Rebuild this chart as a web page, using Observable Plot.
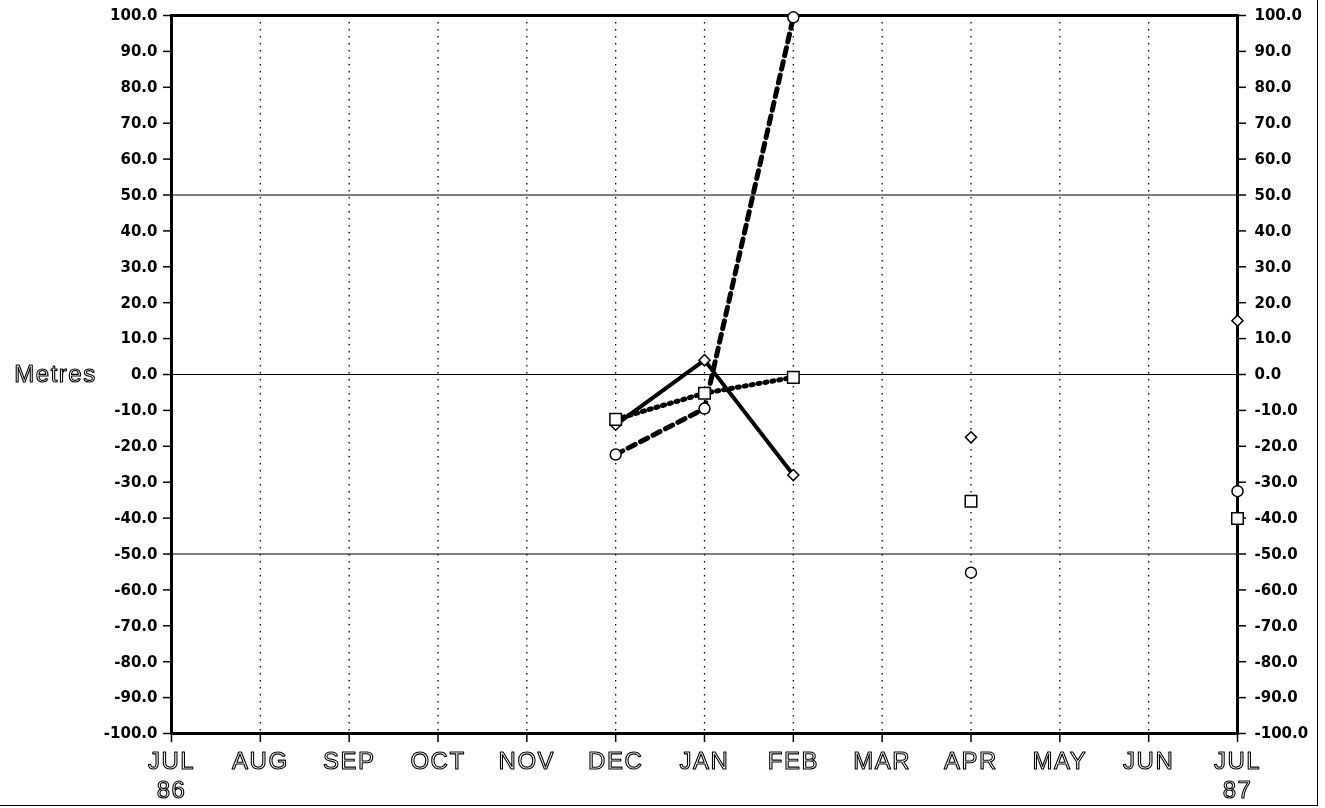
<!DOCTYPE html>
<html><head><meta charset="utf-8">
<script src="https://cdn.jsdelivr.net/npm/d3@7"></script>
<script src="https://cdn.jsdelivr.net/npm/@observablehq/plot@0.6"></script>
<style>
body{margin:0;background:#fff;}
#chart{position:relative;width:1325px;height:808px;}
#border{position:absolute;left:0;top:0;width:1317px;height:805px;border-right:1.5px solid #000;border-bottom:1.5px solid #000;pointer-events:none;}
svg text{filter:grayscale(1);}
g[aria-label="text"] text{letter-spacing:1.5px;}
</style></head><body>
<div id="chart"><div id="border"></div></div>
<script>
const months = ["JUL","AUG","SEP","OCT","NOV","DEC","JAN","FEB","MAR","APR","MAY","JUN","JUL"];
const years  = ["86","","","","","","","","","","","","87"];
const yTicks = d3.range(-100, 101, 10);
const refLines = [50, 0, -50];
// series values per month index (null = no observation)
const solidSeries  = [null,null,null,null,null,-14.0,  4.0,-28.0,null,-17.5,null,null, 15.0];
const dottedSeries = [null,null,null,null,null,-12.5, -5.2, -0.8,null,-35.3,null,null,-40.1];
const dashedSeries = [null,null,null,null,null,-22.3, -9.5, 99.5,null,-55.2,null,null,-32.5];

const idx = d3.range(months.length);
const fmt = d => d.toFixed(1);
const labelStyle = {fill:"white", stroke:"black", strokeWidth:1.1, paintOrder:"fill", fontFamily:"Liberation Sans", fontWeight:"normal", fontSize:24, lineAnchor:"middle"};

const chart = Plot.plot({
  width: 1325, height: 808,
  marginLeft: 171, marginRight: 88, marginTop: 15, marginBottom: 75,
  x: {domain: [0, 12]},
  y: {domain: [-100, 100]},
  style: {fontFamily: "DejaVu Sans", fontSize: "15px", fontWeight: "bold", color: "black", background: "white"},
  marks: [
    Plot.ruleX(idx.slice(1, -1), {stroke: "black", strokeWidth: 1.3, strokeDasharray: "1.5,5.5"}),
    Plot.ruleY(refLines, {stroke: "black", strokeWidth: 1}),
    Plot.axisY({anchor: "left", ticks: yTicks, tickSize: 8, tickPadding: 6, tickFormat: fmt, label: null, strokeWidth: 1.5}),
    Plot.axisY({anchor: "right", ticks: yTicks, tickSize: 8, tickPadding: 9, tickFormat: fmt, label: null, strokeWidth: 1.5}),
    Plot.axisX({ticks: idx, tickSize: 9, tickFormat: () => "", label: null, strokeWidth: 1.5}),
    Plot.frame({stroke: "black", strokeWidth: 3}),
    Plot.line(idx, {x: d => d, y: d => solidSeries[d], stroke: "black", strokeWidth: 4}),
    Plot.line(idx, {x: d => d, y: d => dottedSeries[d], stroke: "black", strokeWidth: 5, strokeDasharray: "2,5"}),
    Plot.line(idx, {x: d => d, y: d => dashedSeries[d], stroke: "black", strokeWidth: 5, strokeDasharray: "8,6"}),
    Plot.dot(idx, {x: d => d, y: d => solidSeries[d], symbol: "diamond2", r: 5, fill: "white", stroke: "black", strokeWidth: 1.5}),
    Plot.dot(idx, {x: d => d, y: d => dottedSeries[d], symbol: "square", r: 6.5, fill: "white", stroke: "black", strokeWidth: 1.5}),
    Plot.dot(idx, {x: d => d, y: d => dashedSeries[d], symbol: "circle", r: 5.5, fill: "white", stroke: "black", strokeWidth: 1.5}),
    Plot.text(idx, {x: d => d, text: d => months[d], frameAnchor: "bottom", dy: 28, ...labelStyle}),
    Plot.text(idx, {x: d => d, text: d => years[d], frameAnchor: "bottom", dy: 57, ...labelStyle}),
    Plot.text(["Metres"], {y: () => 0, text: d => d, frameAnchor: "left", dx: -116, textAnchor: "middle", ...labelStyle})
  ]
});
document.getElementById("chart").prepend(chart);
</script>
</body></html>
